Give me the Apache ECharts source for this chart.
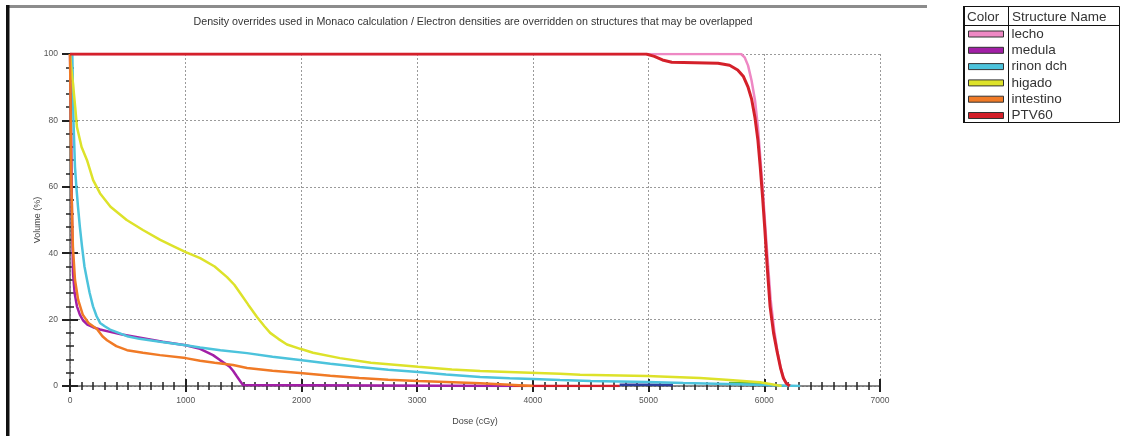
<!DOCTYPE html>
<html>
<head>
<meta charset="utf-8">
<title>DVH</title>
<script src="https://cdn.jsdelivr.net/npm/echarts@6/dist/echarts.min.js"></script>
<style>
  html, body { margin: 0; padding: 0; background: #fff; }
  #chart { width: 1123px; height: 436px; }
</style>
</head>
<body>
<div id="chart"></div>
<script>
// Dose-volume histogram: dose (cGy) vs. volume (%) per structure
const chartTitle = 'Density overrides used in Monaco calculation / Electron densities are overridden on structures that may be overlapped';
const structureNames = ['lecho', 'medula', 'rinon dch', 'higado', 'intestino', 'PTV60'];
const structureColors = ['#ee88c4', '#a21fa6', '#4cc3dc', '#dde22a', '#f07a26', '#d4202a'];
const doseTicks = [0, 1000, 2000, 3000, 4000, 5000, 6000, 7000];
const volumeTicks = [0, 20, 40, 60, 80, 100];

const lechoDose = [0, 5800, 5830, 5860, 5890, 5920, 5945, 5965, 5985, 6005, 6025, 6055, 6085, 6115, 6145, 6170, 6200, 6230];
const lechoVol  = [100, 100, 99, 96.5, 92, 86, 78, 69, 60, 50, 40, 26, 17, 10, 5, 2, 0.5, 0];

const medulaDose = [0, 5, 10, 17, 26, 40, 60, 85, 112, 150, 199, 260, 346, 450, 631, 800, 1000, 1124, 1236, 1296, 1340, 1380, 1409, 1440, 1470, 1495, 1500, 3830];
const medulaVol  = [100, 90, 76, 52, 34, 28, 24, 21.5, 19.8, 18.5, 17.7, 17, 16.3, 15.5, 14.4, 13.3, 12.3, 11.2, 9.3, 7.8, 6.8, 5.8, 4.6, 3, 1.5, 0.3, 0, 0];

const rinonDose = [0, 20, 30, 43, 55, 69, 85, 104, 125, 147, 170, 199, 230, 260, 300, 346, 420, 493, 600, 778, 1000, 1124, 1300, 1530, 1750, 1988, 2250, 2506, 2750, 3008, 3250, 3544, 3800, 4000, 4235, 4500, 4987, 5300, 5678, 6000, 6310];
const rinonVol  = [100, 100, 80, 66, 60, 54, 48, 42, 36, 32, 28, 24, 21, 19, 18, 17, 16, 15, 14.2, 13.3, 12.3, 11.6, 10.8, 9.9, 8.8, 7.8, 6.7, 5.7, 4.9, 4.2, 3.5, 2.7, 2.3, 2.1, 1.8, 1.5, 1.2, 0.9, 0.6, 0.3, 0];

const higadoDose = [0, 10, 26, 45, 60, 100, 147, 200, 260, 350, 490, 630, 780, 900, 1000, 1125, 1250, 1357, 1420, 1470, 1540, 1616, 1680, 1730, 1800, 1875, 1990, 2100, 2333, 2600, 3008, 3300, 3544, 3976, 4235, 4408, 4987, 5445, 5700, 5963, 6100, 6150];
const higadoVol  = [100, 96, 91, 84, 78, 72, 68, 62, 58, 54, 50, 47, 44, 42, 40.3, 38.5, 36, 32.8, 30.5, 28, 24.5, 20.8, 18, 16, 14.2, 12.5, 11.2, 10, 8.4, 7, 5.8, 5, 4.5, 4, 3.7, 3.4, 3, 2.4, 1.8, 1.1, 0.3, 0];

const intestinoDose = [0, 5, 12, 25, 43, 70, 110, 160, 233, 280, 320, 400, 493, 630, 778, 1000, 1124, 1250, 1409, 1530, 1750, 1988, 2250, 2500, 2750, 3008, 3250, 3544, 3800, 4000];
const intestinoVol  = [100, 85, 60, 42, 32, 26, 21.5, 19, 17.2, 15, 13.8, 12, 10.8, 10, 9.3, 8.4, 7.6, 7, 6.3, 5.4, 4.6, 3.9, 3.1, 2.4, 1.9, 1.5, 1.2, 0.8, 0.4, 0];

const ptvDose = [0, 4980, 5050, 5120, 5200, 5400, 5600, 5700, 5770, 5820, 5860, 5890, 5920, 5945, 5965, 5985, 6005, 6025, 6050, 6080, 6110, 6140, 6165, 6190, 6220];
const ptvVol  = [100, 100, 99.3, 98.2, 97.5, 97.4, 97.2, 96.6, 95.2, 93.2, 90, 86.5, 80.7, 74, 66, 57, 47, 36, 24, 16, 10.5, 5.5, 2.4, 0.8, 0];

// structures without a legend entry (low-volume tails near the dose axis)
const redTailDose = [3830, 4750];
const redTailVol  = [0, 0];
const blueTailDose = [4750, 5000, 5210];
const blueTailVol  = [0.4, 0.4, 0.3];
const greenTailDose = [5700, 5850, 6000];
const greenTailVol  = [0.9, 0.8, 0.6];

const pairs = (xs, ys) => xs.map((x, i) => [x, ys[i]]);

const namedSeries = [
  [lechoDose, lechoVol],
  [medulaDose, medulaVol],
  [rinonDose, rinonVol],
  [higadoDose, higadoVol],
  [intestinoDose, intestinoVol],
  [ptvDose, ptvVol]
];

const lineSeries = (name, data, color, width, z) => ({
  name, type: 'line', data, showSymbol: false, symbol: 'none',
  xAxisIndex: 0, yAxisIndex: 0, z,
  lineStyle: { color, width }, itemStyle: { color },
  emphasis: { disabled: true }, silent: true
});

const series = [
  lineSeries('', pairs(redTailDose, redTailVol), '#d4202a', 2.5, 2),
  lineSeries('', pairs(blueTailDose, blueTailVol), '#2e3f9e', 2.5, 2),
  lineSeries('', pairs(greenTailDose, greenTailVol), '#5cb83a', 2.5, 2)
];
namedSeries.forEach((s, i) => {
  series.push(lineSeries(structureNames[i], pairs(s[0], s[1]), structureColors[i], i === 5 ? 3 : 2.5, 3 + i));
});

const FONT = 'Liberation Sans, Arial, sans-serif';

const valueAxisBase = (min, max, interval) => ({ type: 'value', min, max, interval });

const option = {
  animation: false,
  backgroundColor: '#fff',
  title: {
    text: chartTitle,
    left: 468, top: 12, textAlign: 'center',
    textStyle: { fontFamily: FONT, fontSize: 10.7, fontWeight: 'normal', color: '#333' }
  },
  grid: { left: 70, right: 243, top: 54, bottom: 50, containLabel: false },
  legend: {
    data: structureNames,
    orient: 'vertical',
    left: 968, top: 27, padding: 0,
    icon: 'rect',
    itemWidth: 35, itemHeight: 6, itemGap: 2.3,
    selectedMode: false,
    itemStyle: { borderColor: '#333', borderWidth: 1 },
    textStyle: { fontFamily: FONT, fontSize: 13.5, color: '#333', lineHeight: 12, padding: [0, 0, 0, 3] }
  },
  xAxis: [
    Object.assign(valueAxisBase(0, 7000, 1000), {
      position: 'bottom',
      name: 'Dose (cGy)', nameLocation: 'middle', nameGap: 31, nameMoveOverlap: false,
      nameTextStyle: { fontFamily: FONT, fontSize: 9, color: '#444' },
      axisLine: { show: true, onZero: false, lineStyle: { color: '#666', width: 1.5 } },
      axisTick: { show: true, length: 6, lineStyle: { color: '#222', width: 2 } },
      minorTick: { show: true, splitNumber: 10, length: 4, lineStyle: { color: '#222', width: 1.5 } },
      splitLine: { show: true, lineStyle: { color: '#9a9a9a', width: 1, type: [2, 2] } },
      axisLabel: {
        fontFamily: FONT, fontSize: 8.5, color: '#555', margin: 10,
        formatter: v => doseTicks.includes(v) ? String(v) : ''
      }
    }),
    Object.assign(valueAxisBase(0, 7000, 1000), {
      position: 'bottom',
      axisLine: { show: false },
      axisTick: { show: true, inside: true, length: 7, lineStyle: { color: '#222', width: 2 } },
      minorTick: { show: true, splitNumber: 10, length: 4, lineStyle: { color: '#222', width: 1.5 } },
      splitLine: { show: false },
      axisLabel: { show: false }
    })
  ],
  yAxis: [
    Object.assign(valueAxisBase(0, 100, 20), {
      position: 'left',
      name: 'Volume (%)', nameLocation: 'middle', nameGap: 28, nameMoveOverlap: false,
      nameTextStyle: { fontFamily: FONT, fontSize: 9, color: '#444' },
      axisLine: { show: true, onZero: false, lineStyle: { color: '#666', width: 1.5 } },
      axisTick: { show: true, length: 8, lineStyle: { color: '#222', width: 2 } },
      minorTick: { show: true, splitNumber: 5, length: 4, lineStyle: { color: '#222', width: 1.5 } },
      splitLine: { show: true, lineStyle: { color: '#9a9a9a', width: 1, type: [2, 2] } },
      axisLabel: {
        fontFamily: FONT, fontSize: 8.5, color: '#555', margin: 12,
        formatter: v => volumeTicks.includes(v) ? String(v) : ''
      }
    }),
    Object.assign(valueAxisBase(0, 100, 20), {
      position: 'left',
      axisLine: { show: false },
      axisTick: { show: true, inside: true, length: 8, lineStyle: { color: '#222', width: 2 } },
      minorTick: { show: true, splitNumber: 5, length: 4, lineStyle: { color: '#222', width: 1.5 } },
      splitLine: { show: false },
      axisLabel: { show: false }
    })
  ],
  graphic: [
    // outer frame of the plot panel
    { type: 'rect', shape: { x: 6, y: 5, width: 921, height: 3 }, style: { fill: '#8c8c8c' }, silent: true },
    { type: 'rect', shape: { x: 6, y: 5, width: 3.5, height: 431 }, style: { fill: '#111' }, silent: true },
    // legend table
    { type: 'rect', shape: { x: 963.5, y: 6.5, width: 156, height: 116 }, style: { fill: 'none', stroke: '#111', lineWidth: 1 }, silent: true },
    { type: 'line', shape: { x1: 964, y1: 6, x2: 964, y2: 123 }, style: { stroke: '#111', lineWidth: 2 }, silent: true },
    { type: 'line', shape: { x1: 963.5, y1: 25.5, x2: 1119.5, y2: 25.5 }, style: { stroke: '#111', lineWidth: 1 }, silent: true },
    { type: 'line', shape: { x1: 1008.5, y1: 6.5, x2: 1008.5, y2: 122.5 }, style: { stroke: '#111', lineWidth: 1 }, silent: true },
    { type: 'text', x: 967, y: 10, style: { text: 'Color', font: '13.5px ' + FONT, fill: '#333' }, silent: true },
    { type: 'text', x: 1012, y: 10, style: { text: 'Structure Name', font: '13.5px ' + FONT, fill: '#333' }, silent: true }
  ],
  series
};

const chart = echarts.init(document.getElementById('chart'), null, { renderer: 'canvas' });
chart.setOption(option);
</script>
</body>
</html>
